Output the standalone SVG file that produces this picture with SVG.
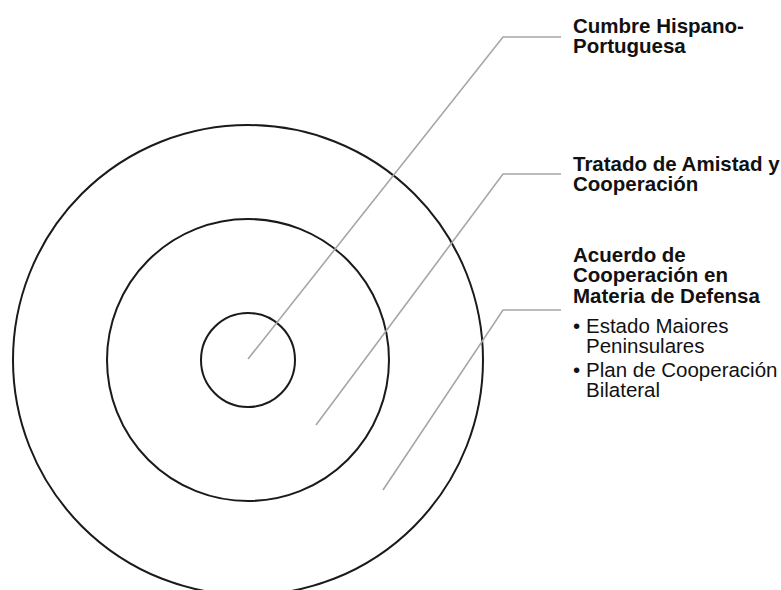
<svg xmlns="http://www.w3.org/2000/svg" width="781" height="590" viewBox="0 0 781 590">
<style>
.ring{fill:none;stroke:#1a1a1a;stroke-width:2}
.lead{fill:none;stroke:#a6a6a6;stroke-width:1.6}
.h{font-family:"Liberation Sans",Arial,sans-serif;font-weight:bold;font-size:20.5px;fill:#111}
.b{font-family:"Liberation Sans",Arial,sans-serif;font-size:20.5px;fill:#111}
</style>
<rect width="781" height="590" fill="#fff"/>
<g id="outer"><circle class="ring" cx="248" cy="360" r="235"/></g>
<g id="middle"><circle class="ring" cx="248" cy="360" r="141"/></g>
<g id="inner"><circle class="ring" cx="248" cy="360" r="47"/></g>
<g id="connectors">
<polyline class="lead" points="248,359 503,37 561,37"/>
<polyline class="lead" points="316,425 503,174 561,174"/>
<polyline class="lead" points="383,490 503,310 561,310"/>
</g>
<g id="label-cumbre">
<text class="h" x="573" y="33">Cumbre Hispano-</text>
<text class="h" x="573" y="53">Portuguesa</text>
</g>
<g id="label-tratado">
<text class="h" x="573" y="171">Tratado de Amistad y</text>
<text class="h" x="573" y="191">Cooperación</text>
</g>
<g id="label-acuerdo">
<text class="h" x="573" y="262">Acuerdo de</text>
<text class="h" x="573" y="282">Cooperación en</text>
<text class="h" x="573" y="303">Materia de Defensa</text>
<text class="b" x="573" y="333">•</text>
<text class="b" x="586" y="333">Estado Maiores</text>
<text class="b" x="586" y="353">Peninsulares</text>
<text class="b" x="573" y="377">•</text>
<text class="b" x="586" y="377">Plan de Cooperación</text>
<text class="b" x="586" y="397">Bilateral</text>
</g>
</svg>
